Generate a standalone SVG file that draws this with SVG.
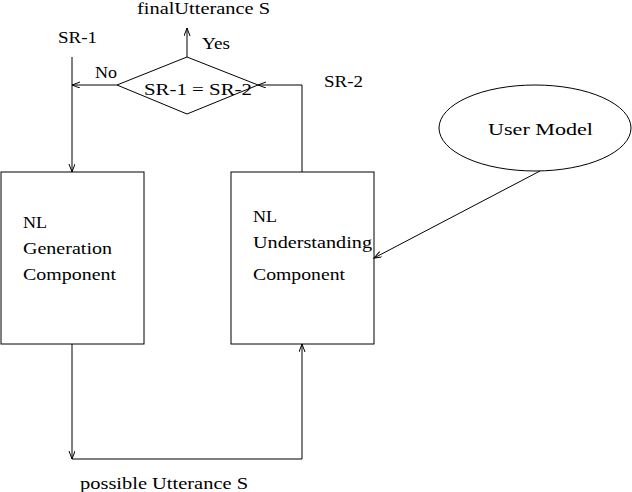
<svg xmlns="http://www.w3.org/2000/svg" width="632" height="492" viewBox="0 0 632 492">
<style>
text{font-family:"Liberation Serif","Times New Roman",serif;font-size:17px;fill:#000}
.s{fill:none;stroke:#000;stroke-width:1}
.c{fill:none;stroke:#000;stroke-width:1;marker-end:url(#ah)}
</style>
<defs>
<marker id="ah" markerUnits="userSpaceOnUse" markerWidth="10" markerHeight="8" refX="8" refY="3" orient="auto">
<path d="M0,0 L8,3 L0,6" fill="none" stroke="#000" stroke-width="1"/>
</marker>
</defs>
<rect width="632" height="492" fill="#fff"/>
<g id="labels">
<text x="137" y="14" textLength="133" lengthAdjust="spacingAndGlyphs">finalUtterance S</text>
<text x="58" y="43" textLength="39" lengthAdjust="spacingAndGlyphs">SR-1</text>
<text x="202" y="49" textLength="28" lengthAdjust="spacingAndGlyphs">Yes</text>
<text x="95" y="78" textLength="22" lengthAdjust="spacingAndGlyphs">No</text>
<text x="324" y="87" textLength="39" lengthAdjust="spacingAndGlyphs">SR-2</text>
<text x="80" y="489" textLength="168" lengthAdjust="spacingAndGlyphs">possible Utterance S</text>
</g>
<g id="decision">
<polygon class="s" points="187,57 258,85 187,114 117,85"/>
<text x="144" y="95" textLength="108" lengthAdjust="spacingAndGlyphs">SR-1 = SR-2</text>
</g>
<g id="generation">
<rect class="s" x="1" y="172" width="143" height="172"/>
<text x="23" y="228" textLength="24" lengthAdjust="spacingAndGlyphs">NL</text>
<text x="23" y="254" textLength="89" lengthAdjust="spacingAndGlyphs">Generation</text>
<text x="23" y="280" textLength="93" lengthAdjust="spacingAndGlyphs">Component</text>
</g>
<g id="understanding">
<rect class="s" x="231" y="172" width="143" height="172"/>
<text x="253" y="222" textLength="24" lengthAdjust="spacingAndGlyphs">NL</text>
<text x="253" y="248" textLength="119" lengthAdjust="spacingAndGlyphs">Understanding</text>
<text x="253" y="280" textLength="92" lengthAdjust="spacingAndGlyphs">Component</text>
</g>
<g id="usermodel">
<ellipse class="s" cx="535" cy="128" rx="96" ry="43"/>
<text x="488" y="135" textLength="105" lengthAdjust="spacingAndGlyphs">User Model</text>
</g>
<g id="connectors">
<path class="c" d="M72,57 L72,172"/>
<path class="c" d="M117,85 L72,85"/>
<path class="c" d="M187,57 L187,28"/>
<path class="c" d="M302,172 L302,85 L258,85"/>
<path class="c" d="M72,344 L72,459"/>
<path class="c" d="M72,459 L302,459 L302,344"/>
<path class="c" d="M540,171 L374,258"/>
</g>
</svg>
